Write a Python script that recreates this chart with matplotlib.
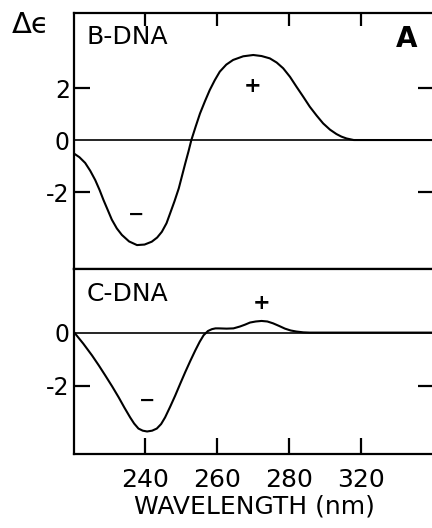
import matplotlib
matplotlib.use('Agg')
import matplotlib.pyplot as plt

# values (wavelength nm, delta epsilon)
b_wl = [220.3, 221.8, 223.4, 224.8, 226.2, 227.4, 228.5, 229.7, 230.8, 232.2, 233.6,
        235.6, 237.8, 239.9, 241.9, 243.4, 244.7, 246, 247, 248.2, 249.4, 250.3,
        251.2, 252.1, 252.9, 254.1, 255.3, 256.7, 258, 259.4, 260.8, 262.6, 264.5,
        267.3, 270.1, 272.4, 274.7, 276.6, 278.4, 280.3, 282.1, 284, 285.8, 287.7,
        289.5, 291.4, 293.2, 294.6, 296, 298, 320.3]
b_de = [-0.52, -0.66, -0.88, -1.18, -1.54, -1.92, -2.31, -2.7, -3.06, -3.4, -3.65,
        -3.9, -4.04, -4.02, -3.91, -3.75, -3.53, -3.2, -2.82, -2.36, -1.86, -1.38,
        -0.9, -0.44, 0.0, 0.52, 1.02, 1.5, 1.92, 2.3, 2.63, 2.9, 3.08,
        3.22, 3.27, 3.23, 3.14, 2.98, 2.76, 2.43, 2.05, 1.66, 1.28, 0.94,
        0.64, 0.4, 0.23, 0.13, 0.06, 0.0, 0.0]

c_wl = [220.4, 222.9, 225.3, 227.2, 229, 230.9, 232.7, 234.3, 235.9, 237, 238.2,
        239.4, 240.6, 242, 243.3, 244.5, 245.6, 247, 248.4, 249.8, 251.2, 252.6,
        254, 255.2, 256.3, 257.5, 258.6, 259.6, 260.5, 262.7, 264.6, 266.4, 267.8,
        269.2, 270.8, 272.4, 274, 275.6, 277.3, 278.9, 280.5, 282.1, 284, 285.8,
        320.3]
c_de = [0.0, -0.42, -0.86, -1.24, -1.62, -2.03, -2.44, -2.83, -3.2, -3.43, -3.62,
        -3.7, -3.73, -3.7, -3.62, -3.45, -3.2, -2.8, -2.38, -1.93, -1.49, -1.07,
        -0.67, -0.35, -0.1, 0.06, 0.13, 0.16, 0.16, 0.15, 0.16, 0.23, 0.3,
        0.38, 0.42, 0.44, 0.42, 0.35, 0.25, 0.15, 0.08, 0.04, 0.01, 0.0,
        0.0]

tick_pos = [240, 260, 280, 300]
tick_lab = ['240', '260', '280', '320']

plt.rcParams['font.family'] = ['DejaVu Sans']

fig = plt.figure(figsize=(4.32, 5.28), dpi=100)
left, width = 74 / 432, 360 / 432
ax1 = fig.add_axes([left, 1 - 269 / 528, width, 256 / 528])
ax2 = fig.add_axes([left, 1 - 454 / 528, width, 185 / 528])

for ax in (ax1, ax2):
    ax.set_xlim(220.3, 320.3)
    for s in ax.spines.values():
        s.set_linewidth(1.6)
    ax.axhline(0, color='black', lw=1.2)

ax1.plot(b_wl, b_de, color='black', lw=1.5)
ax1.set_ylim(-4.96, 4.885)
ax1.set_yticks([2, 0, -2])
ax1.set_yticklabels(['2', '0', '-2'])
ax1.set_xticks(tick_pos)
ax1.tick_params(axis='x', direction='in', top=True, bottom=False, labelbottom=False,
                length=9, width=1.6)
ax1.tick_params(axis='y', direction='in', left=True, right=True, length=11.5,
                width=1.6, labelsize=17, pad=3)
ax1.yaxis.get_major_ticks()[1].tick1line.set_visible(False)
ax1.yaxis.get_major_ticks()[1].tick2line.set_visible(False)
ax1.text(0.035, 0.955, 'B-DNA', transform=ax1.transAxes, fontsize=18, va='top', ha='left')
ax1.text(0.955, 0.955, 'A', transform=ax1.transAxes, fontsize=20, fontweight='bold',
         va='top', ha='right')
ax1.text(270, 2.08, '+', fontsize=15, ha='center', va='center', fontweight='bold')
ax1.text(237.5, -2.85, '\u2212', fontsize=14, ha='center', va='center', fontweight='bold')

ax2.plot(c_wl, c_de, color='black', lw=1.5)
ax2.set_ylim(-4.58, 2.40)
ax2.set_yticks([0, -2])
ax2.set_yticklabels(['0', '-2'])
ax2.set_xticks(tick_pos)
ax2.set_xticklabels(tick_lab)
ax2.tick_params(axis='x', direction='in', top=False, bottom=True, length=11.5,
                width=1.6, labelsize=18, pad=10)
ax2.tick_params(axis='y', direction='in', left=True, right=True, length=11.5,
                width=1.6, labelsize=17, pad=3)
ax2.yaxis.get_major_ticks()[0].tick1line.set_visible(False)
ax2.yaxis.get_major_ticks()[0].tick2line.set_visible(False)
ax2.set_xlabel('WAVELENGTH (nm)', fontsize=18, labelpad=2)
ax2.text(0.035, 0.93, 'C-DNA', transform=ax2.transAxes, fontsize=18, va='top', ha='left')
ax2.text(272.5, 1.13, '+', fontsize=15, ha='center', va='center', fontweight='bold')
ax2.text(240.5, -2.54, '\u2212', fontsize=14, ha='center', va='center', fontweight='bold')

fig.text(12 / 432, 1 - 25 / 528, '\u0394\u03f5', fontsize=21, ha='left', va='center')

fig.savefig('out.png', dpi=100)
